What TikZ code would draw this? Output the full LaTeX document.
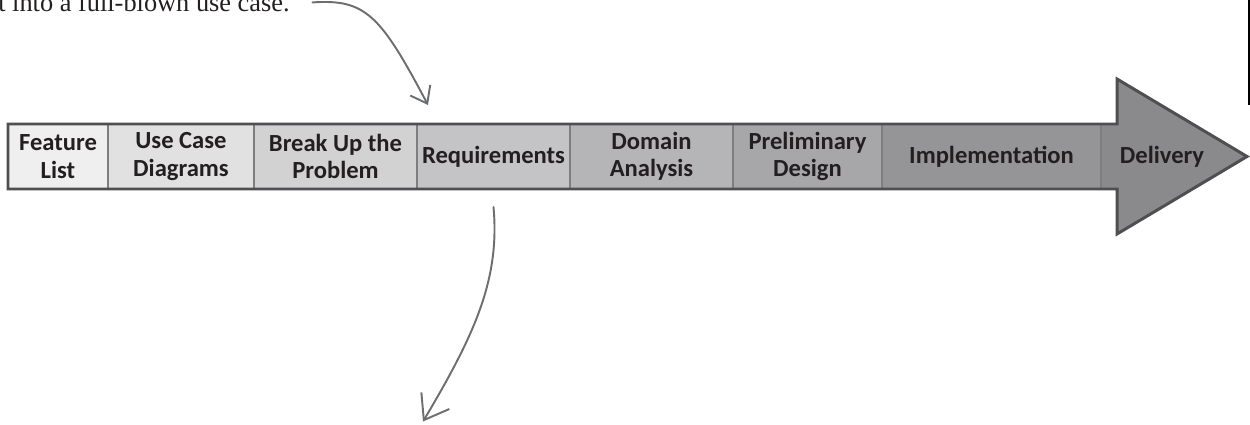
\documentclass[tikz,border=0pt]{standalone}
\usepackage{fontspec}
\setmainfont{Liberation Serif}
\newfontfamily\chalk{Carlito}
\usetikzlibrary{arrows.meta, positioning}
\definecolor{stgA}{HTML}{EFEFF0}
\definecolor{stgB}{HTML}{E1E1E2}
\definecolor{stgC}{HTML}{D2D2D3}
\definecolor{stgD}{HTML}{C4C4C6}
\definecolor{stgE}{HTML}{B5B5B7}
\definecolor{stgF}{HTML}{A7A7A9}
\definecolor{stgG}{HTML}{959597}
\definecolor{stgH}{HTML}{8A8A8C}
\definecolor{rim}{HTML}{4F4F51}
\definecolor{seam}{HTML}{7E7E80}
\definecolor{pen}{HTML}{6D6E71}
\definecolor{ink}{HTML}{231F20}

\begin{document}
\begin{tikzpicture}[
  stage/.style={minimum height=1.3cm, inner sep=0pt, outer sep=0pt, align=center,
    text=ink, font=\chalk\bfseries\fontsize{14}{15.5}\selectfont},
  hand/.style={pen, line width=1.1pt, line cap=round, line join=round}]

\useasboundingbox (0,0) rectangle (25,8.48);

% Arrow body and head (delivery tone)
\fill[stgH] (0.16,4.70) -- (22.34,4.70) -- (22.34,3.80) -- (24.94,5.35)
  -- (22.34,6.90) -- (22.34,6.00) -- (0.16,6.00) -- cycle;

% Stages
\node[stage, fill=stgA, minimum width=2.00cm, anchor=west] (feat) at (0.16,5.35) {Feature\\List};
\node[stage, fill=stgB, minimum width=2.92cm, right=0pt of feat] (usec) {Use Case\\Diagrams};
\node[stage, fill=stgC, minimum width=3.26cm, right=0pt of usec] (brk) {Break Up the\\Problem};
\node[stage, fill=stgD, minimum width=3.06cm, right=0pt of brk] (req) {Requirements};
\node[stage, fill=stgE, minimum width=3.26cm, right=0pt of req] (dom) {Domain\\Analysis};
\node[stage, fill=stgF, minimum width=2.98cm, right=0pt of dom] (prelim) {Preliminary\\Design};
\node[stage, fill=stgG, minimum width=4.38cm, right=0pt of prelim] (impl) {Implementation};
\node[stage] (deliv) at (23.24,5.35) {Delivery};

% Seams between stages
\foreach \s in {feat,usec,brk,req,dom,prelim,impl}
  \draw[seam, line width=0.8pt] (\s.north east) -- (\s.south east);

% Outline
\draw[rim, line width=1.7pt, line join=miter] (0.16,4.70) -- (22.34,4.70) -- (22.34,3.80)
  -- (24.94,5.35) -- (22.34,6.90) -- (22.34,6.00) -- (0.16,6.00) -- cycle;

% Page edge mark
\fill[black] (24.95,6.38) rectangle (25,8.48);

% Note text
\node[font=\fontsize{15}{17}\selectfont, text=ink, anchor=base east, inner sep=0pt] (note)
  at (5.8,8.25) {t into a full-blown use case.};

% Hand-drawn pointers
\coordinate (reqin) at (8.56,6.38);
\coordinate (lost) at (8.46,0.05);
\draw[hand, -{Straight Barb[length=3mm, width=4.5mm]}]
  ([xshift=0.45cm]note.east) .. controls (7.3,8.5) and (7.6,8.2) .. (reqin);
\draw[hand, -{Straight Barb[length=4.5mm, width=6.5mm]}]
  ([yshift=-0.36cm]req.south) .. controls (10.0,2.9) and (9.5,1.8) .. (lost);

\end{tikzpicture}
\end{document}
